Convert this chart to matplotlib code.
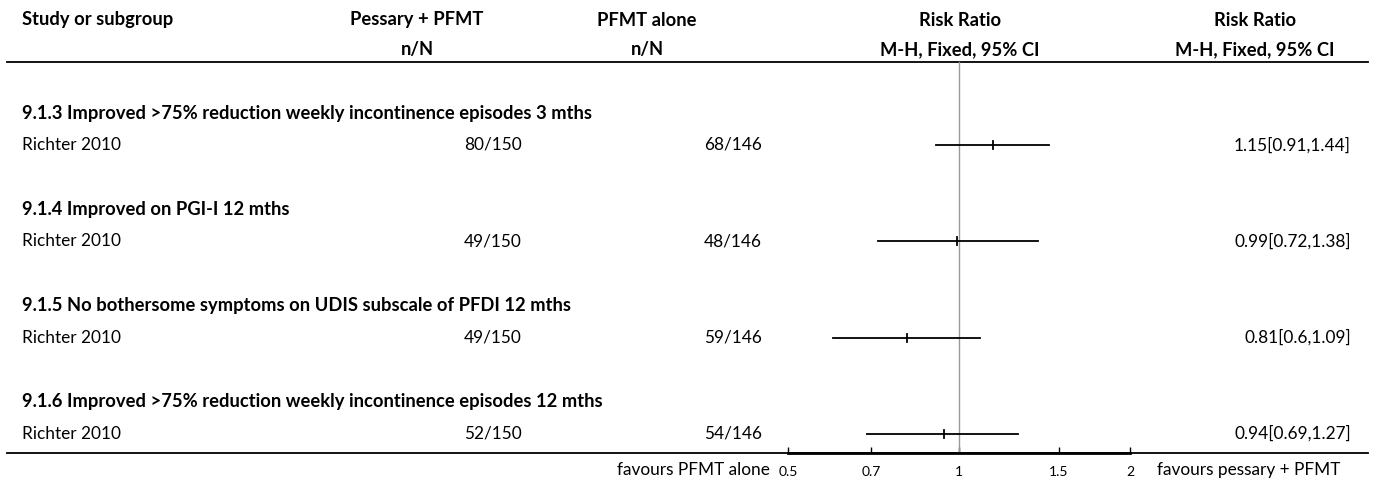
import matplotlib.pyplot as plt

plt.rcParams['font.family'] = ['Lato', 'DejaVu Sans']

# data
groups = ["9.1.3 Improved >75% reduction weekly incontinence episodes 3 mths",
          "9.1.4 Improved on PGI-I 12 mths",
          "9.1.5 No bothersome symptoms on UDIS subscale of PFDI 12 mths",
          "9.1.6 Improved >75% reduction weekly incontinence episodes 12 mths"]
studies = ["Richter 2010", "Richter 2010", "Richter 2010", "Richter 2010"]
pessary = ["80/150", "49/150", "49/150", "52/150"]
pfmt = ["68/146", "48/146", "59/146", "54/146"]
rr = [1.15, 0.99, 0.81, 0.94]
ci_lo = [0.91, 0.72, 0.6, 0.69]
ci_hi = [1.44, 1.38, 1.09, 1.27]
ticks = [0.5, 0.7, 1, 1.5, 2]

W, H = 1375, 484
fig = plt.figure(figsize=(W / 100, H / 100), dpi=100)

# table part, in pixel coordinates
ax = fig.add_axes([0, 0, 1, 1])
ax.set_xlim(0, W)
ax.set_ylim(H, 0)
ax.axis('off')

fs = 13.2   # bold
fr = 12.4   # regular
hdr = dict(fontsize=fs, fontweight='bold', va='center')
ax.text(22, 20, "Study or subgroup", ha='left', **hdr)
ax.text(417, 20, "Pessary + PFMT", ha='center', **hdr)
ax.text(417, 50, "n/N", ha='center', **hdr)
ax.text(647, 20, "PFMT alone", ha='center', **hdr)
ax.text(647, 50, "n/N", ha='center', **hdr)
ax.text(960, 20, "Risk Ratio", ha='center', **hdr)
ax.text(960, 50, "M-H, Fixed, 95% CI", ha='center', **hdr)
ax.text(1255, 20, "Risk Ratio", ha='center', **hdr)
ax.text(1255, 50, "M-H, Fixed, 95% CI", ha='center', **hdr)

ax.plot([7, 1368], [62, 62], color='black', lw=1.3)
ax.plot([7, 1368], [453, 453], color='black', lw=1.3)

row_y = []
for i in range(len(groups)):
    gy = 113 + 96.3 * i
    sy = gy + 32
    row_y.append(sy)
    ax.text(22, gy, groups[i], ha='left', **hdr)
    ax.text(22, sy, studies[i], ha='left', va='center', fontsize=fr)
    ax.text(522, sy, pessary[i], ha='right', va='center', fontsize=fr)
    ax.text(762, sy, pfmt[i], ha='right', va='center', fontsize=fr)
    ax.text(1351, sy, f"{rr[i]:g}[{ci_lo[i]:g},{ci_hi[i]:g}]", ha='right', va='center', fontsize=fr)

ax.text(770, 470, "favours PFMT alone", ha='right', va='center', fontsize=fr)
ax.text(1157, 470, "favours pessary + PFMT", ha='left', va='center', fontsize=fr)

# forest plot part
left, right, bottom = 788, 1130, 453
fa = fig.add_axes([left / W, (H - bottom) / H, (right - left) / W, bottom / H])
fa.patch.set_alpha(0)
fa.set_xscale('log')
fa.set_xlim(0.5, 2)
fa.set_ylim(bottom, 0)
for s in ['top', 'left', 'right']:
    fa.spines[s].set_visible(False)
fa.spines['bottom'].set_linewidth(2)
fa.set_yticks([])
fa.set_xticks(ticks)
fa.set_xticklabels([f"{t:g}" for t in ticks])
fa.minorticks_off()
fa.tick_params(axis='x', direction='in', length=4, width=1, labelsize=10, pad=9)

fa.plot([1, 1], [62, bottom], color='#999999', lw=1)
for i in range(len(rr)):
    fa.plot([ci_lo[i], ci_hi[i]], [row_y[i], row_y[i]], color='black', lw=1.3)
    fa.plot([rr[i], rr[i]], [row_y[i] - 4, row_y[i] + 4], color='black', lw=1.3)

fig.savefig('out.png', dpi=100)
